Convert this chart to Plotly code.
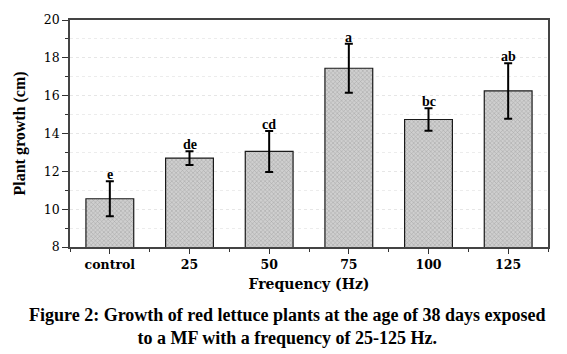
import plotly.graph_objects as go

categories = ["control", "25", "50", "75", "100", "125"]
means = [10.55, 12.70, 13.05, 17.45, 14.74, 16.25]
errors = [0.92, 0.36, 1.08, 1.30, 0.60, 1.47]
letters = ["e", "de", "cd", "a", "bc", "ab"]
positions = list(range(len(categories)))

FONT = "Liberation Serif"
WIDE = "DejaVu Serif"

fig = go.Figure()
fig.add_trace(go.Bar(
    x=positions, y=means, width=0.6,
    marker=dict(
        color="#bcbcbc",
        line=dict(color="#1a1a1a", width=1.2),
        pattern=dict(shape="x", fgcolor="#777777", bgcolor="#cfcfcf", size=3, solidity=0.3),
    ),
    error_y=dict(type="data", array=errors, visible=True, color="black", thickness=2, width=4),
    showlegend=False,
))

for xp, m, e, lab in zip(positions, means, errors, letters):
    fig.add_annotation(x=xp, y=m + e, text="<b>%s</b>" % lab, showarrow=False,
                       yanchor="bottom", yshift=-3,
                       font=dict(family=FONT, size=14, color="black"))

fig.add_annotation(xref="paper", yref="paper", x=0.455, y=-0.245,
                   text="<b>Figure 2: Growth of red lettuce plants at the age of 38 days exposed</b><br><b>to a MF with a frequency of 25-125 Hz.</b>",
                   showarrow=False, xanchor="center", yanchor="top", align="center",
                   font=dict(family=FONT, size=18, color="black"))

fig.update_layout(
    width=567, height=354,
    margin=dict(l=70, r=19, t=12, b=107),
    paper_bgcolor="white", plot_bgcolor="white",
    font=dict(family=FONT, color="black"),
    bargap=0.4,
    xaxis=dict(
        range=[-0.5, 5.5],
        tickvals=positions, ticktext=["<b>%s</b>" % c for c in categories],
        tickfont=dict(family=WIDE, size=12.5, color="black"),
        ticks="outside", ticklen=5, tickwidth=1.2, tickcolor="#333",
        minor=dict(tick0=-0.5, dtick=1, ticks="outside", ticklen=3, tickcolor="#333"),
        showline=True, linecolor="#444", linewidth=1.5, mirror=True,
        showgrid=False, zeroline=False,
        title=dict(text="<b>Frequency (Hz)</b>", font=dict(family=WIDE, size=14, color="black"), standoff=8),
    ),
    yaxis=dict(
        range=[8, 20], dtick=2,
        tickfont=dict(family=WIDE, size=12.5, color="black"),
        tickformat="d",
        ticks="outside", ticklen=6, tickwidth=1.2, tickcolor="#333",
        minor=dict(dtick=1, ticks="outside", ticklen=3, tickcolor="#333",
                   showgrid=True, gridcolor="#ececec", griddash="dot", gridwidth=1),
        showgrid=True, gridcolor="#e6e6e6", griddash="dot", gridwidth=1,
        showline=True, linecolor="#444", linewidth=1.5, mirror=True,
        zeroline=False,
        title=dict(text="<b>Plant growth (cm)</b>", font=dict(family=FONT, size=16, color="black"), standoff=14),
    ),
)

fig.write_html("out.html")
